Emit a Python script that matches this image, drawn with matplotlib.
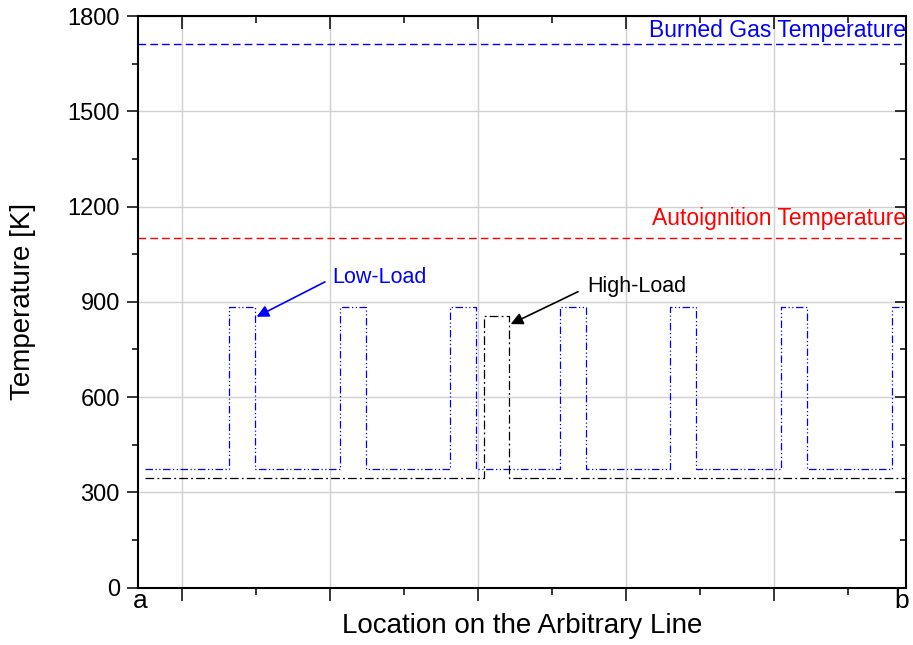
import numpy as np
import matplotlib
matplotlib.use('Agg')
import matplotlib.pyplot as plt
from matplotlib.ticker import MultipleLocator

plt.rcParams['font.family'] = ['Liberation Sans', 'DejaVu Sans']

# location along the line (arbitrary units), temperatures in K
x_start, x_end = -0.51, 9.78
low_base, low_peak = 373, 883
low_on = [0.63, 2.13, 3.62, 5.11, 6.60, 8.10, 9.59]
low_off = [0.98, 2.48, 3.97, 5.46, 6.95, 8.45, 9.94]
high_base, high_peak = 345, 854
high_on = [4.08]
high_off = [4.42]
T_burned = 1712
T_autoign = 1100


def steps(on, off, base, peak):
    xs, ys = [x_start], [base]
    for a, b in zip(on, off):
        xs += [a, a, b, b]
        ys += [base, peak, peak, base]
    xs.append(x_end)
    ys.append(base)
    return xs, ys


fig = plt.figure(figsize=(9.13, 6.45), dpi=100)
ax = fig.add_axes([0.151, 0.089, 0.841, 0.886])

lx, ly = steps(low_on, low_off, low_base, low_peak)
hx, hy = steps(high_on, high_off, high_base, high_peak)
ax.plot(lx, ly, color='#0000ff', lw=0.9, dashes=(6, 2, 1, 2, 1, 2), zorder=3)
ax.plot(hx, hy, color='k', lw=0.9, dashes=(7, 2.5, 1.5, 2.5), zorder=3)

ax.axhline(T_burned, color='#0000ff', lw=1.0, dashes=(5.5, 3))
ax.axhline(T_autoign, color='#ff0000', lw=1.0, dashes=(5.5, 3))

ax.text(9.78, 1735, 'Burned Gas Temperature', color='#0000ff', fontsize=16.5,
        ha='right', va='baseline')
ax.text(9.78, 1142, 'Autoignition Temperature', color='#ff0000', fontsize=16.5,
        ha='right', va='baseline')

ax.annotate('', xy=(1.005, 853), xytext=(1.93, 963),
            arrowprops=dict(arrowstyle='-|>', color='#0000ff', lw=1.2,
                            mutation_scale=18, shrinkA=0, shrinkB=0))
ax.text(2.03, 960, 'Low-Load', color='#0000ff', fontsize=15.5, va='baseline')
ax.annotate('', xy=(4.44, 830), xytext=(5.35, 932),
            arrowprops=dict(arrowstyle='-|>', color='k', lw=1.2,
                            mutation_scale=18, shrinkA=0, shrinkB=0))
ax.text(5.47, 932, 'High-Load', color='k', fontsize=15.5, va='baseline')

ax.set_xlim(-0.6, 9.78)
ax.set_ylim(0, 1800)
ax.xaxis.set_major_locator(MultipleLocator(2))
ax.xaxis.set_minor_locator(MultipleLocator(1))
ax.yaxis.set_major_locator(MultipleLocator(300))
ax.yaxis.set_minor_locator(MultipleLocator(150))
ax.set_xticklabels([])
ax.grid(True, which='major', color='#d0d0d0', lw=1.0)
ax.set_axisbelow(True)

for s in ax.spines.values():
    s.set_linewidth(1.5)
ax.tick_params(which='both', top=True, right=True, width=1.1, labelsize=17, pad=5)
ax.tick_params(axis='x', which='major', length=9)
ax.tick_params(axis='x', which='minor', length=5)
ax.tick_params(axis='y', which='major', length=8)
ax.tick_params(axis='y', which='minor', length=4.5)
ax.xaxis.set_tick_params(which='both', direction='out')
ax.yaxis.set_tick_params(which='both', direction='out')
# top/right ticks point inward
for t in ax.xaxis.get_major_ticks() + ax.xaxis.get_minor_ticks():
    t.tick2line.set_marker(3)
for t in ax.yaxis.get_major_ticks() + ax.yaxis.get_minor_ticks():
    t.tick2line.set_marker(0)

ax.text(0.003, -0.0355, 'a', transform=ax.transAxes, fontsize=19,
        ha='center', va='baseline')
ax.text(0.995, -0.0355, 'b', transform=ax.transAxes, fontsize=19,
        ha='center', va='baseline')

ax.set_ylabel('Temperature [K]', fontsize=20)
ax.yaxis.set_label_coords(-0.133, 0.5)
ax.set_xlabel('Location on the Arbitrary Line', fontsize=20)
ax.xaxis.set_label_coords(0.5, -0.045)

fig.savefig('out.png', dpi=100)
